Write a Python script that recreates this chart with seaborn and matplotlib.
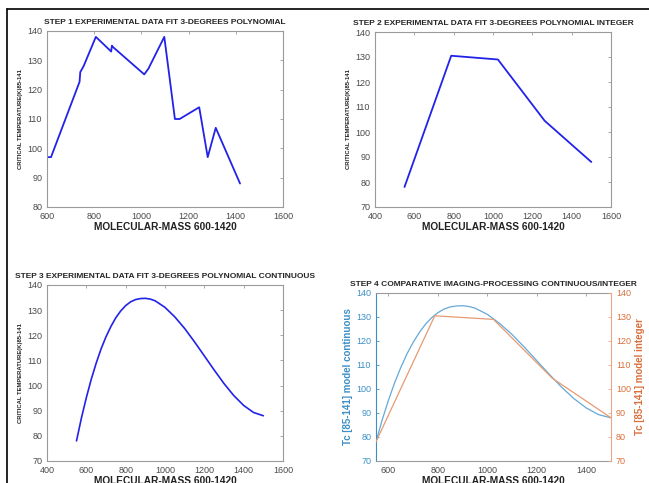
import matplotlib
matplotlib.use("Agg")
import matplotlib.pyplot as plt
import seaborn as sns
import pandas as pd
from matplotlib.lines import Line2D

# ---- data ----
exp_mass = [600, 617, 738, 741, 755, 807, 872, 875, 880, 1008, 1012, 1030, 1097, 1142, 1162, 1245, 1281, 1315, 1418]
exp_tc = [97, 97, 122.7, 126, 128, 138, 133, 135, 134.5, 125.5, 125.2, 127.2, 138, 110, 110, 114, 97, 107, 88]

int_mass = [550, 787.5, 1025, 1262.5, 1500]
int_tc = [78, 130.5, 129, 104.5, 88]

cont_mass = [550, 575, 600, 625, 650, 675, 700, 725, 750, 775, 800, 825, 850, 875, 900, 925, 950,
             1000, 1050, 1100, 1150, 1200, 1250, 1300, 1350, 1400, 1450, 1500]
cont_tc = [78, 87.1, 95.2, 102.5, 108.9, 114.6, 119.4, 123.5, 127.0, 129.7, 131.8, 133.3, 134.2, 134.6, 134.7,
           134.4, 133.7, 131.1, 127.3, 122.7, 117.4, 111.8, 106.2, 100.8, 96.0, 92.1, 89.3, 88]

title1 = "STEP 1 EXPERIMENTAL DATA FIT 3-DEGREES POLYNOMIAL"
title2 = "STEP 2 EXPERIMENTAL DATA FIT 3-DEGREES POLYNOMIAL INTEGER"
title3 = "STEP 3 EXPERIMENTAL DATA FIT 3-DEGREES POLYNOMIAL CONTINUOUS"
title4 = "STEP 4 COMPARATIVE IMAGING-PROCESSING CONTINUOUS/INTEGER"
xlab = "MOLECULAR-MASS 600-1420"
ylab = "CRITICAL TEMPERATURE(K)85-141"
ylab4l = "Tc [85-141] model continuous"
ylab4r = "Tc [85-141] model integer"

sns.set_style("white")
plt.rcParams['font.family'] = ['Liberation Sans', 'DejaVu Sans']

W, H = 649, 483
fig = plt.figure(figsize=(W / 100, H / 100), dpi=100)

def pos(l, r, t, b):
    return [l / W, (H - b) / H, (r - l) / W, (b - t) / H]

LINE = "#2222e8"
TICKC = "#4a4a4a"
SPINE = "#9a9a9a"
BLUE = "#3c8fc6"
ORANGE = "#d8703c"
TFS = 6.0
LFS = 6.5

def style(ax, xlim, xticks, ylim, yticks):
    ax.set_xlim(*xlim)
    ax.set_ylim(*ylim)
    ax.set_xticks(xticks)
    ax.set_yticks(yticks)
    for s in ax.spines.values():
        s.set_color(SPINE)
        s.set_linewidth(0.8)
    ax.tick_params(direction='in', length=2.5, width=0.6, color=SPINE, labelsize=LFS,
                   labelcolor=TICKC, top=True, right=True, pad=3.5)

def deco(ax, title, ylabel=True):
    ax.set_title(title, fontsize=TFS, fontweight='bold', pad=5)
    ax.set_xlabel(xlab, fontsize=7.3, fontweight='bold', color="#222222", labelpad=0.5)
    if ylabel:
        ax.set_ylabel(ylab, fontsize=4.2, fontweight='bold', color="#222222", labelpad=3)

ax1 = fig.add_axes(pos(47, 283, 31, 207))
sns.lineplot(x=exp_mass, y=exp_tc, ax=ax1, color=LINE, lw=1.3, sort=False)
style(ax1, (600, 1600), range(600, 1601, 200), (80, 140), range(80, 141, 10))
deco(ax1, title1)

ax2 = fig.add_axes(pos(375, 611, 32, 207))
sns.lineplot(x=int_mass, y=int_tc, ax=ax2, color=LINE, lw=1.3, sort=False)
style(ax2, (400, 1600), range(400, 1601, 200), (70, 140), range(70, 141, 10))
deco(ax2, title2)

ax3 = fig.add_axes(pos(47, 283, 285, 461))
sns.lineplot(x=cont_mass, y=cont_tc, ax=ax3, color=LINE, lw=1.2, sort=False)
style(ax3, (400, 1600), range(400, 1601, 200), (70, 140), range(70, 141, 10))
deco(ax3, title3)

ax4 = fig.add_axes(pos(376, 611, 293, 461))
sns.lineplot(x=cont_mass, y=cont_tc, ax=ax4, color="#64a9d8", lw=0.9, sort=False)
style(ax4, (550, 1500), range(600, 1401, 200), (70, 140), range(70, 141, 10))
ax4.tick_params(right=False, labelcolor=TICKC)
ax4.tick_params(axis='y', labelcolor=BLUE, color=BLUE)
ax4.spines['left'].set_color(BLUE)
ax4.spines['right'].set_visible(False)
ax4.set_title(title4, fontsize=TFS, fontweight='bold', pad=5)
ax4.set_xlabel(xlab, fontsize=7.3, fontweight='bold', color="#222222", labelpad=0.5)
ax4.set_ylabel(ylab4l, fontsize=7, fontweight='bold', color=BLUE, labelpad=2)

ax4r = ax4.twinx()
sns.lineplot(x=int_mass, y=int_tc, ax=ax4r, color="#e59a72", lw=0.9, sort=False)
ax4r.set_ylim(70, 140)
ax4r.set_yticks(range(70, 141, 10))
for k, s in ax4r.spines.items():
    s.set_visible(k == 'right')
ax4r.spines['right'].set_color("#e8a888")
ax4r.spines['right'].set_linewidth(0.8)
ax4r.tick_params(axis='y', direction='in', length=2.5, width=0.6, color="#e8a888",
                 labelsize=LFS, labelcolor=ORANGE, pad=3.5)
ax4r.set_ylabel(ylab4r, fontsize=7, fontweight='bold', color=ORANGE, labelpad=3)

# figure frame lines (left and top)
fig.add_artist(Line2D([7 / W, 7 / W], [0, 1 - 9 / H], transform=fig.transFigure, color='black', lw=1.2))
fig.add_artist(Line2D([7 / W, 1], [1 - 9 / H, 1 - 9 / H], transform=fig.transFigure, color='black', lw=1.2))

fig.savefig("out.png", dpi=100)
